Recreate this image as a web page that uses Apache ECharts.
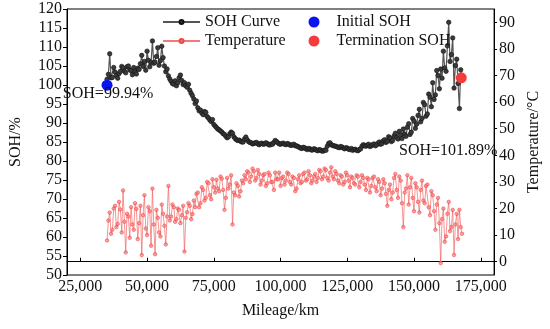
<!DOCTYPE html>
<html>
<head>
<meta charset="utf-8">
<script src="https://cdn.jsdelivr.net/npm/echarts@6/dist/echarts.min.js"></script>
<style>
html,body{margin:0;padding:0;background:#fff;}
#chart{width:550px;height:329px;}
</style>
</head>
<body>
<div id="chart"></div>
<script>
const mileage = [35000,35500,36000,36500,37000,37500,38000,38500,39000,39500,40000,40500,41000,41500,42000,42500,43000,43500,44000,44500,45000,45500,46000,46500,47000,47500,48000,48500,49000,49500,50000,50500,51000,51500,52000,52500,53000,53500,54000,54500,55000,55500,56000,56500,57000,57500,58000,58500,59000,59500,60000,60500,61000,61500,62000,62500,63000,63500,64000,64500,65000,65500,66000,66500,67000,67500,68000,68500,69000,69500,70000,70500,71000,71500,72000,72500,73000,73500,74000,74500,75000,75500,76000,76500,77000,77500,78000,78500,79000,79500,80000,80500,81000,81500,82000,82500,83000,83500,84000,84500,85000,85500,86000,86500,87000,87500,88000,88500,89000,89500,90000,90500,91000,91500,92000,92500,93000,93500,94000,94500,95000,95500,96000,96500,97000,97500,98000,98500,99000,99500,100000,100500,101000,101500,102000,102500,103000,103500,104000,104500,105000,105500,106000,106500,107000,107500,108000,108500,109000,109500,110000,110500,111000,111500,112000,112500,113000,113500,114000,114500,115000,115500,116000,116500,117000,117500,118000,118500,119000,119500,120000,120500,121000,121500,122000,122500,123000,123500,124000,124500,125000,125500,126000,126500,127000,127500,128000,128500,129000,129500,130000,130500,131000,131500,132000,132500,133000,133500,134000,134500,135000,135500,136000,136500,137000,137500,138000,138500,139000,139500,140000,140500,141000,141500,142000,142500,143000,143500,144000,144500,145000,145500,146000,146500,147000,147500,148000,148500,149000,149500,150000,150500,151000,151500,152000,152500,153000,153500,154000,154500,155000,155500,156000,156500,157000,157500,158000,158500,159000,159500,160000,160500,161000,161500,162000,162500,163000,163500,164000,164500,165000,165500,166000,166500,167000,167500,168000];

const sohValues = [101.5,102.8,108.2,101.9,102.0,104.6,103.4,102.5,101.8,103.0,103.6,104.9,104.5,103.6,103.2,104.8,105.0,104.0,103.8,102.7,104.6,103.5,102.9,104.4,104.1,105.6,107.8,104.9,106.2,103.9,108.9,106.5,104.8,106.0,111.6,105.7,106.0,107.5,109.8,105.2,106.4,110.2,107.2,105.0,103.5,104.2,102.4,101.6,101.0,100.4,100.2,101.1,99.8,100.6,101.9,102.6,101.2,100.1,100.6,99.8,99.4,100.2,98.6,97.8,97.2,96.3,95.1,95.8,94.0,93.2,93.4,92.6,92.2,93.0,92.8,91.7,91.3,90.8,90.4,90.9,89.6,89.2,88.8,88.4,88.2,87.9,87.6,87.2,87.0,86.5,86.1,86.4,87.2,87.6,87.3,86.4,85.9,85.6,85.4,85.5,85.2,85.0,85.0,85.8,86.3,85.6,85.1,84.9,84.8,84.5,84.6,84.8,84.9,84.5,84.3,84.6,84.7,84.4,84.5,84.8,84.6,84.3,84.2,84.5,84.4,84.9,85.4,85.1,84.8,84.5,84.4,84.6,84.7,84.4,84.3,84.6,84.5,84.2,84.1,84.3,84.4,84.0,84.0,83.8,83.6,83.4,83.3,83.6,83.5,83.2,83.0,83.3,83.2,82.9,82.9,83.2,83.1,82.8,82.7,83.0,82.9,82.6,82.6,82.9,82.8,83.9,84.6,84.8,84.3,84.1,84.0,83.9,83.8,83.6,83.5,83.8,83.7,83.4,83.2,83.5,83.4,83.1,83.0,83.3,82.8,83.0,83.1,82.8,82.7,83.0,83.2,83.9,84.3,84.0,83.9,84.2,84.4,83.8,84.0,84.3,84.5,84.0,84.2,84.7,85.0,84.4,84.6,85.3,85.6,84.9,85.2,86.4,86.0,85.1,85.4,86.6,87.3,86.2,85.8,87.8,86.9,85.9,88.4,87.1,86.5,88.9,89.8,87.0,87.6,91.2,90.5,88.6,89.7,92.0,93.6,90.3,91.2,95.4,94.8,91.8,92.4,97.6,96.8,94.3,100.6,96.2,97.4,103.8,102.5,99.0,104.2,101.8,108.9,104.5,103.6,110.3,116.5,106.2,108.0,112.4,99.2,105.1,106.8,100.4,93.8,104.0,101.5];

const tempValues = [8.0,15.5,18.5,10.5,12.0,20.0,21.0,13.0,14.2,22.5,19.6,11.0,26.8,15.0,3.5,18.0,17.0,9.0,20.5,14.0,12.0,22.0,19.8,8.5,14.5,21.0,2.5,17.5,25.0,12.5,10.0,20.5,19.0,6.0,27.5,14.0,2.8,19.5,16.5,11.0,9.5,21.5,18.0,13.5,6.5,17.0,28.5,15.5,17.0,21.5,20.5,15.0,16.0,20.0,19.5,14.5,17.5,21.0,3.8,16.5,18.6,22.0,21.0,16.0,17.9,23.0,20.5,25.5,26.0,20.5,22.0,28.0,27.0,23.0,24.0,30.0,29.5,25.0,23.5,31.0,28.0,26.0,30.8,27.5,26.5,32.0,31.2,27.0,19.5,24.0,31.5,27.5,29.0,32.5,14.0,26.0,25.0,29.5,28.5,24.5,26.5,30.5,29.5,32.5,31.0,34.0,33.5,30.0,32.0,35.0,34.0,30.5,31.5,34.5,33.0,29.0,30.5,32.5,33.0,28.5,29.5,33.5,32.5,30.0,30.0,27.0,33.5,31.0,31.0,33.5,28.5,31.5,32.0,29.0,30.5,33.5,33.0,30.0,29.0,32.0,31.5,26.5,27.5,31.0,32.5,29.5,30.0,33.0,33.5,30.5,31.0,34.0,32.5,29.5,30.5,32.0,33.0,30.0,31.5,34.5,34.0,31.0,32.0,35.0,34.5,31.5,30.5,33.5,35.5,32.0,31.0,34.0,33.0,30.5,29.5,32.5,32.0,29.0,30.0,33.5,32.5,30.5,28.0,32.0,31.5,29.5,29.0,32.5,32.0,28.0,30.0,32.5,31.5,29.0,27.0,31.5,31.0,26.0,28.5,31.5,32.0,28.0,26.5,31.0,30.0,25.0,27.5,31.0,29.5,25.5,21.0,27.0,29.0,23.5,26.0,31.5,33.0,27.0,24.0,32.0,30.5,22.0,13.0,26.0,27.5,32.5,21.5,28.0,31.5,24.0,19.0,29.5,28.0,22.5,18.5,27.0,30.5,23.0,22.0,28.5,29.0,20.5,17.5,26.5,25.0,19.0,12.0,21.5,24.0,14.5,-0.5,16.0,20.0,7.5,9.5,18.0,22.5,11.5,13.0,19.5,2.5,14.0,18.0,8.5,19.5,13.0,10.5];

const initialPoint = [35000, 99.94];
const terminationPoint = [167700, 101.89];

const xTicks = [25000,50000,75000,100000,125000,150000,175000];
const tempTicks = [0,10,20,30,40,50,60,70,80,90];

const FONT = 'Liberation Serif';
const chart = echarts.init(document.getElementById('chart'));

const sohData = mileage.map((m,i)=>[m, sohValues[i]]);
const tempData = mileage.map((m,i)=>[m, tempValues[i]]);

function fmt(v){ return String(v).replace(/\B(?=(\d{3})+(?!\d))/g, ','); }

const txt = {color:'#111', fontFamily:FONT, fontSize:16};

chart.setOption({
  animation:false,
  textStyle:{fontFamily:FONT},
  grid:{left:58, right:46, top:9, bottom:54, show:true, borderColor:'#000', borderWidth:1, backgroundColor:'transparent'},
  legend:[
    {data:['SOH Curve','Temperature'], orient:'vertical', left:162, top:14, itemWidth:37, itemHeight:5, itemGap:3,
     textStyle:Object.assign({}, txt, {lineHeight:16}), padding:0},
    {data:['Initial SOH','Termination SOH'], orient:'vertical', left:308.5, top:14, itemWidth:11, itemHeight:11, itemGap:3,
     textStyle:Object.assign({}, txt, {lineHeight:16, padding:[0,0,0,12]}), padding:0}
  ],
  xAxis:{type:'value', min:20000, max:180000,
    name:'Mileage/km', nameLocation:'middle', nameGap:28, nameTextStyle:txt,
    axisLine:{lineStyle:{color:'#000', width:1}},
    axisTick:{inside:true, length:4, customValues:xTicks, lineStyle:{color:'#000'}},
    axisLabel:Object.assign({customValues:xTicks, margin:4, formatter:fmt}, txt),
    splitLine:{show:false}},
  yAxis:[
    {type:'value', min:50, max:120, interval:5, position:'left',
     name:'SOH/%', nameLocation:'middle', nameGap:43, nameTextStyle:txt,
     axisLine:{show:true, lineStyle:{color:'#000'}},
     axisTick:{show:true, inside:false, length:4, lineStyle:{color:'#000'}},
     axisLabel:Object.assign({margin:5}, txt),
     splitLine:{show:false}},
    {type:'value', min:-5, max:95, position:'right',
     name:'Temperature/°C', nameLocation:'middle', nameGap:25, nameTextStyle:txt,
     axisLine:{show:true, lineStyle:{color:'#000'}},
     axisTick:{show:true, inside:false, length:3, customValues:tempTicks, lineStyle:{color:'#000'}},
     axisLabel:Object.assign({margin:5, customValues:tempTicks}, txt),
     splitLine:{show:false}}
  ],
  series:[
    {name:'SOH Curve', type:'line', yAxisIndex:0, data:sohData, symbol:'circle', symbolSize:4.5, showSymbol:true, showAllSymbol:true,
     lineStyle:{color:'#555', width:1.2},
     itemStyle:{color:'#3a3a3a', borderColor:'#111', borderWidth:0.6},
     z:3},
    {name:'Temperature', type:'line', yAxisIndex:1, data:tempData, symbol:'circle', symbolSize:3.5, showSymbol:true, showAllSymbol:true,
     lineStyle:{color:'#f26262', width:0.8, opacity:0.85},
     itemStyle:{color:'rgba(250,120,120,0.65)', borderColor:'#f04848', borderWidth:0.6},
     z:2},
    {name:'Initial SOH', type:'scatter', yAxisIndex:0, data:[initialPoint], symbol:'circle', symbolSize:11,
     itemStyle:{color:'#0a14f0', opacity:1}, z:5,
     label:Object.assign({show:true, position:'inside', offset:[1,9], formatter:'SOH=99.94%'}, txt)},
    {name:'Termination SOH', type:'scatter', yAxisIndex:0, data:[terminationPoint], symbol:'circle', symbolSize:11,
     itemStyle:{color:'#f43c3c', opacity:1}, z:5,
     label:Object.assign({show:true, position:'inside', offset:[-13,73], formatter:'SOH=101.89%'}, txt)}
  ]
});
</script>
</body>
</html>
